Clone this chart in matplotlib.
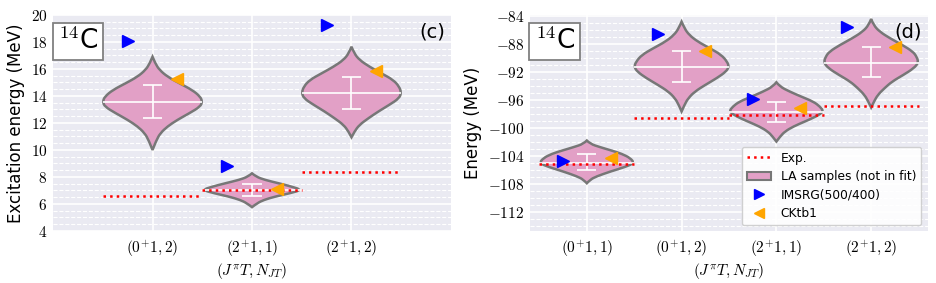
import matplotlib
matplotlib.use("Agg")
import matplotlib.pyplot as plt
import numpy as np
from matplotlib.path import Path
from matplotlib.patches import PathPatch, Patch
from matplotlib.lines import Line2D
from matplotlib.ticker import MultipleLocator, AutoMinorLocator, FuncFormatter

plt.rcParams['mathtext.fontset'] = 'cm'
plt.rcParams['font.family'] = ['DejaVu Sans']

# ---- panel (c): excitation energies ----
exc_labels = [r'$(0^{+}1,2)$', r'$(2^{+}1,1)$', r'$(2^{+}1,2)$']
exc_pos = [0, 1, 2]
exc_exp = [6.6, 7.03, 8.33]
exc_imsrg = [18.1, 8.8, 19.25]
exc_cktb1 = [15.25, 7.08, 15.85]
exc_median = [13.58, 7.04, 14.25]
exc_err_lo = [12.35, 6.62, 13.04]
exc_err_hi = [14.81, 7.46, 15.38]
# violin outlines: levels (top -> bottom) and half widths
exc_levels = [
    [16.91, 16.42, 15.93, 15.43, 14.94, 14.44, 13.95, 13.58, 13.21, 12.72, 12.23, 11.74, 11.25, 10.75, 10.0],
    [8.27, 8.02, 7.78, 7.53, 7.28, 7.04, 6.79, 6.54, 6.30, 6.05, 5.76],
    [17.65, 17.16, 16.67, 16.17, 15.68, 15.19, 14.69, 14.25, 13.83, 13.34, 12.85, 12.35, 11.86, 11.37, 10.94],
]
exc_halfw = [
    [0, 0.027, 0.07, 0.15, 0.27, 0.40, 0.48, 0.5, 0.48, 0.37, 0.25, 0.15, 0.08, 0.04, 0],
    [0, 0.04, 0.13, 0.27, 0.40, 0.5, 0.38, 0.23, 0.12, 0.05, 0],
    [0, 0.027, 0.08, 0.18, 0.30, 0.42, 0.48, 0.5, 0.48, 0.38, 0.27, 0.17, 0.08, 0.03, 0],
]

# ---- panel (d): total energies ----
tot_labels = [r'$(0^{+}1,1)$', r'$(0^{+}1,2)$', r'$(2^{+}1,1)$', r'$(2^{+}1,2)$']
tot_pos = [0, 1, 2, 3]
tot_exp = [-105.2, -98.6, -98.2, -96.9]
tot_imsrg = [-104.7, -86.65, -95.9, -85.66]
tot_cktb1 = [-104.27, -88.98, -97.2, -88.5]
tot_median = [-105.05, -91.3, -97.7, -90.7]
tot_err_lo = [-106.0, -93.5, -99.2, -92.8]
tot_err_hi = [-103.75, -89.1, -96.3, -88.5]
tot_levels = [
    [-101.8, -102.28, -102.75, -103.23, -103.7, -104.32, -105.03, -105.6, -106.22, -106.93, -107.4, -107.9],
    [-84.85, -85.8, -86.75, -87.7, -88.65, -89.6, -90.55, -91.26, -91.97, -92.92, -93.87, -94.82, -95.77, -96.72, -97.67],
    [-93.49, -94.1, -94.82, -95.53, -96.25, -96.96, -97.67, -98.38, -99.1, -99.8, -100.52, -101.23, -101.95],
    [-84.47, -85.33, -86.28, -87.23, -88.18, -89.12, -89.84, -90.69, -91.5, -92.45, -93.4, -94.35, -95.3, -96.25, -97.1],
]
tot_halfw = [
    [0, 0.035, 0.14, 0.26, 0.37, 0.46, 0.5, 0.4, 0.25, 0.1, 0.035, 0],
    [0, 0.03, 0.08, 0.17, 0.30, 0.42, 0.48, 0.5, 0.47, 0.37, 0.25, 0.14, 0.07, 0.03, 0],
    [0, 0.035, 0.14, 0.26, 0.39, 0.46, 0.5, 0.42, 0.30, 0.18, 0.09, 0.04, 0],
    [0, 0.025, 0.09, 0.2, 0.33, 0.44, 0.48, 0.5, 0.45, 0.34, 0.22, 0.14, 0.07, 0.03, 0],
]

VIOLIN_FC = '#e2a0c6'
VIOLIN_EC = '#777777'


def smooth_side(pts):
    # clamped quadratic b-spline through the read outline points
    verts = [pts[0]]
    codes = [Path.MOVETO]
    n = len(pts)
    for i in range(1, n - 1):
        end = pts[i + 1] if i == n - 2 else ((pts[i][0] + pts[i + 1][0]) / 2, (pts[i][1] + pts[i + 1][1]) / 2)
        verts += [pts[i], end]
        codes += [Path.CURVE3, Path.CURVE3]
    return verts, codes


def draw_violin(ax, cx, levels, halfw):
    right = [(cx + w, y) for y, w in zip(levels, halfw)]
    left = [(cx - w, y) for y, w in zip(levels[::-1], halfw[::-1])]
    v1, c1 = smooth_side(right)
    v2, c2 = smooth_side(left)
    verts = v1 + v2[1:] + [v1[0]]
    codes = c1 + c2[1:] + [Path.CLOSEPOLY]
    ax.add_patch(PathPatch(Path(verts, codes), facecolor=VIOLIN_FC, edgecolor=VIOLIN_EC,
                           lw=1.8, zorder=3))


def panel(ax, pos, labels, exp, imsrg, cktb1, med, lo, hi, levels, halfw):
    ax.set_facecolor('#eaeaf2')
    for s in ax.spines.values():
        s.set_visible(False)
    ax.grid(True, which='major', color='white', lw=1.2, zorder=0)
    ax.grid(True, which='minor', axis='y', color='white', lw=0.8, ls='--', zorder=0)
    ax.set_axisbelow(True)
    for i, x in enumerate(pos):
        draw_violin(ax, x, levels[i], halfw[i])
        w = max(halfw[i])
        ax.hlines(med[i], x - w, x + w, color='white', lw=1.2, zorder=4)
        ax.vlines(x, lo[i], hi[i], color='white', lw=1.2, zorder=4)
        ax.hlines([lo[i], hi[i]], x - 0.1, x + 0.1, color='white', lw=1.2, zorder=4)
        ax.plot([x - 0.5, x + 0.5], [exp[i], exp[i]], ls=':', color='red', lw=1.8, zorder=5)
    ax.plot(np.array(pos) - 0.25, imsrg, ls='none', marker='>', color='blue', ms=8, zorder=6)
    ax.plot(np.array(pos) + 0.25, cktb1, ls='none', marker='<', color='orange', ms=8, zorder=6)
    ax.set_xticks(pos)
    ax.set_xticklabels(labels, fontsize=11)
    ax.yaxis.set_major_formatter(FuncFormatter(lambda v, p: f'${v:g}$'))
    ax.tick_params(axis='y', labelsize=11, length=0, pad=4)
    ax.tick_params(axis='x', length=0, pad=6)
    ax.tick_params(which='minor', length=0)
    ax.set_xlabel(r'$(J^{\pi}T, N_{JT})$', fontsize=11, labelpad=1)
    ax.text(0.012, 0.94, r'$^{14}$C', transform=ax.transAxes, fontsize=19, va='top', ha='left',
            bbox=dict(boxstyle='square,pad=0.2', fc='white', ec='#808080', lw=1.3), zorder=7)


fig = plt.figure(figsize=(9.37, 2.83), dpi=100)
ax1 = fig.add_axes([0.0566, 0.184, 0.4247, 0.763])
ax2 = fig.add_axes([0.5656, 0.184, 0.4248, 0.763])

panel(ax1, exc_pos, exc_labels, exc_exp, exc_imsrg, exc_cktb1, exc_median, exc_err_lo, exc_err_hi,
      exc_levels, exc_halfw)
ax1.set_xlim(-1, 3)
ax1.set_ylim(4, 20)
ax1.yaxis.set_major_locator(MultipleLocator(2))
ax1.yaxis.set_minor_locator(AutoMinorLocator(4))
ax1.set_ylabel('Excitation energy (MeV)', fontsize=12, labelpad=4)
ax1.text(0.985, 0.965, '(c)', transform=ax1.transAxes, fontsize=14, ha='right', va='top')

panel(ax2, tot_pos, tot_labels, tot_exp, tot_imsrg, tot_cktb1, tot_median, tot_err_lo, tot_err_hi,
      tot_levels, tot_halfw)
ax2.set_xlim(-0.6, 3.6)
ax2.set_ylim(-114.7, -83.9)
ax2.yaxis.set_major_locator(MultipleLocator(4))
ax2.yaxis.set_minor_locator(AutoMinorLocator(4))
ax2.set_ylabel('Energy (MeV)', fontsize=12, labelpad=4)
ax2.text(0.985, 0.965, '(d)', transform=ax2.transAxes, fontsize=14, ha='right', va='top')

handles = [Line2D([], [], ls=':', color='red', lw=1.8),
           Patch(facecolor=VIOLIN_FC, edgecolor=VIOLIN_EC, lw=1.5),
           Line2D([], [], ls='none', marker='>', color='blue', ms=7),
           Line2D([], [], ls='none', marker='<', color='orange', ms=7)]
ax2.legend(handles, ['Exp.', 'LA samples (not in fit)', 'IMSRG(500/400)', 'CKtb1'],
           loc='lower right', fontsize=8.8, frameon=True, facecolor='white', edgecolor='#cccccc',
           framealpha=0.9, bbox_to_anchor=(0.983, 0.027), borderaxespad=0, labelspacing=0.45)

fig.savefig('out.png', dpi=100)
